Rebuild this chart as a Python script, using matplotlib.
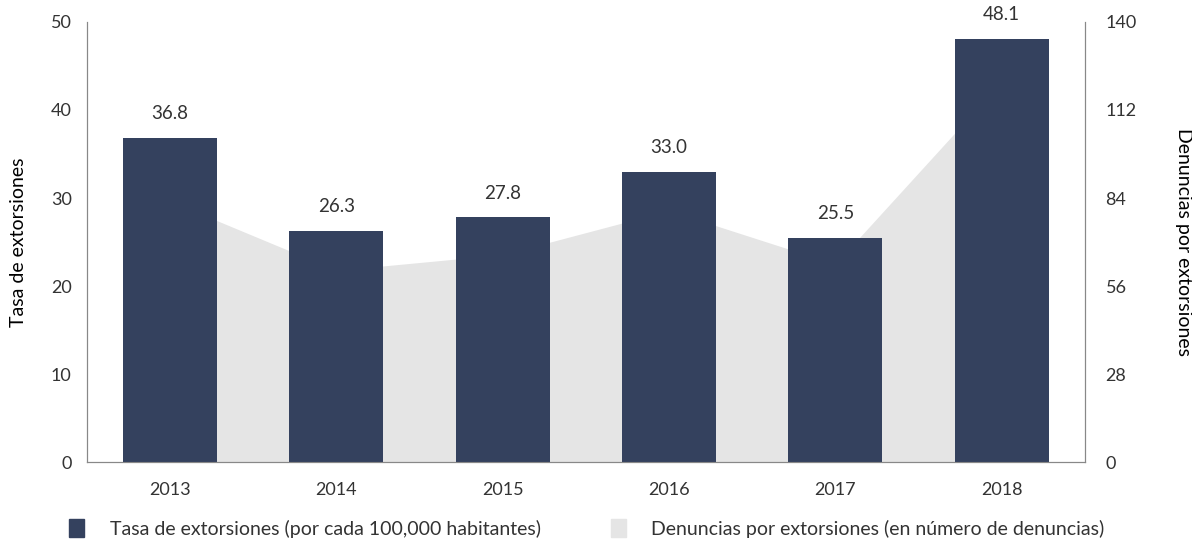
import matplotlib.pyplot as plt
from matplotlib.patches import Patch
import numpy as np

years = ["2013", "2014", "2015", "2016", "2017", "2018"]
tasa = [36.8, 26.3, 27.8, 33.0, 25.5, 48.1]
denuncias = [83, 61, 66, 80, 63, 121]

bar_color = "#34415e"
area_color = "#e5e5e5"
text_color = "#333333"

plt.rcParams["font.family"] = ["Lato", "DejaVu Sans"]
plt.rcParams["font.size"] = 13
plt.rcParams["text.color"] = text_color

fig = plt.figure(figsize=(11.92, 5.47), dpi=100)
ax = fig.add_axes([0.073, 0.155, 0.837, 0.805])
ax2 = ax.twinx()

x = np.arange(len(years))

# area on the right axis, drawn behind the bars
ax2.fill_between(x, denuncias, 0, color=area_color, lw=0)
ax2.set_ylim(0, 140)
ax2.set_yticks([0, 28, 56, 84, 112, 140])
ax2.set_ylabel("Denuncias por extorsiones", rotation=-90, labelpad=40, fontsize=14)

ax.set_zorder(ax2.get_zorder() + 1)
ax.patch.set_visible(False)

bars = ax.bar(x, tasa, width=0.565, color=bar_color)
for xi, v in zip(x, tasa):
    ax.text(xi, v + 1.8, f"{v:.1f}", ha="center", va="bottom", fontsize=13.5)

ax.set_ylim(0, 50)
ax.set_xlim(-0.5, 5.5)
ax.set_yticks([0, 10, 20, 30, 40, 50])
ax.set_xticks(x)
ax.set_xticklabels(years)
ax.set_ylabel("Tasa de extorsiones", labelpad=17, fontsize=14)

for a in (ax, ax2):
    a.tick_params(length=0, colors=text_color, labelsize=13)
    a.spines["top"].set_visible(False)
    for s in ("left", "right", "bottom"):
        a.spines[s].set_color("#888888")
        a.spines[s].set_linewidth(0.8)
ax.tick_params(axis="x", pad=14)
ax.tick_params(axis="y", pad=11)
ax2.tick_params(axis="y", pad=15)

handles = [Patch(color=bar_color), Patch(color=area_color)]
labels = ["Tasa de extorsiones (por cada 100,000 habitantes)",
          "Denuncias por extorsiones (en número de denuncias)"]
fig.legend(handles, labels, loc="lower left", bbox_to_anchor=(0.043, -0.015),
           ncol=2, frameon=False, fontsize=14, handlelength=0.8,
           handleheight=1.1, columnspacing=3.6, handletextpad=1.3)

fig.savefig("out.png", dpi=100)
